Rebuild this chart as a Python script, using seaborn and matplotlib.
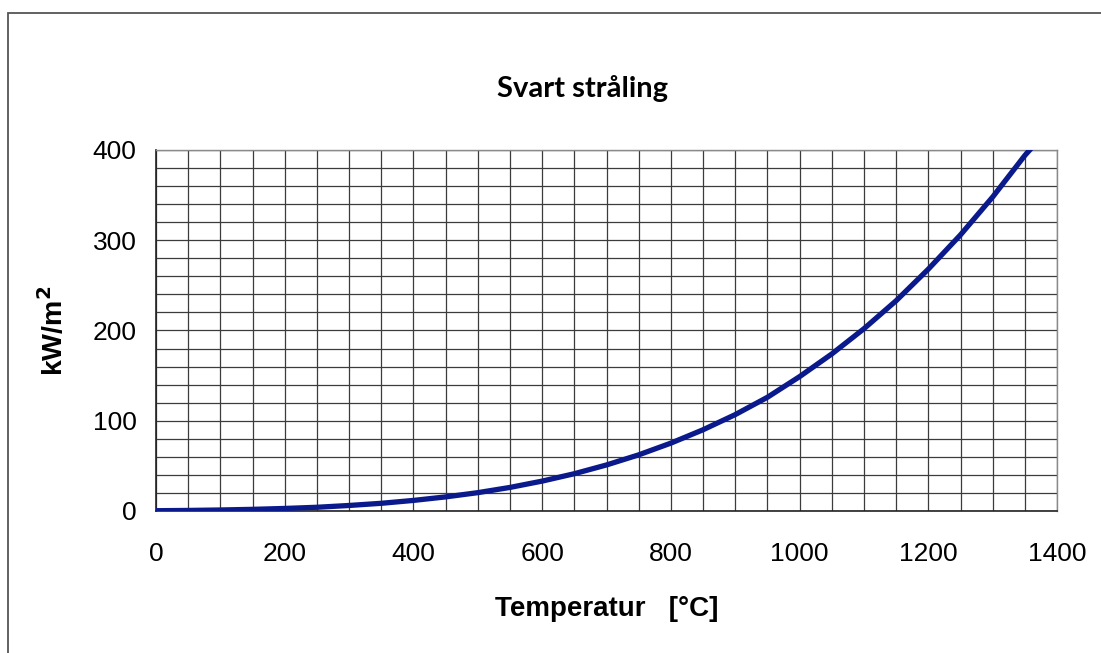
import matplotlib
matplotlib.use("Agg")
import matplotlib.pyplot as plt
from matplotlib.ticker import MultipleLocator
from matplotlib.patches import Rectangle
import seaborn as sns
import pandas as pd

# Black-body emissive power
temperature_c = [0, 50, 100, 150, 200, 250, 300, 350, 400, 450, 500, 550, 600,
                 650, 700, 750, 800, 850, 900, 950, 1000, 1050, 1100, 1150,
                 1200, 1250, 1300, 1350, 1360]
power_kw_m2 = [0.3, 0.6, 1.1, 1.8, 2.8, 4.1, 6.1, 8.5, 11.7, 15.6, 20.3, 26.1,
               33.1, 41.3, 51.0, 62.2, 75.2, 90.0, 106.8, 126.0, 148.9, 174.0,
               202.0, 233.0, 268.0, 306.0, 348.0, 394.0, 402.0]

x_ticks = [0, 200, 400, 600, 800, 1000, 1200, 1400]
y_ticks = [0, 100, 200, 300, 400]

df = pd.DataFrame({"temp": temperature_c, "power": power_kw_m2})

sns.set_style("white")
plt.rcParams["font.family"] = ["Liberation Sans", "DejaVu Sans"]
plt.rcParams["text.color"] = "black"
plt.rcParams["axes.labelcolor"] = "black"
plt.rcParams["xtick.color"] = "black"
plt.rcParams["ytick.color"] = "black"

fig = plt.figure(figsize=(11.01, 6.53), dpi=100)
ax = fig.add_axes([0.1417, 0.2175, 0.8184, 0.5528])

sns.lineplot(data=df, x="temp", y="power", ax=ax, color="#0a1a8c",
             linewidth=3.8, zorder=5, clip_on=True)

ax.set_xlim(0, 1400)
ax.set_ylim(0, 400)
ax.set_xticks(x_ticks)
ax.set_yticks(y_ticks)
ax.xaxis.set_minor_locator(MultipleLocator(50))
ax.yaxis.set_minor_locator(MultipleLocator(20))
ax.grid(True, which="both", color="#3c3c3c", linewidth=0.9)
ax.set_axisbelow(True)

ax.tick_params(axis="both", which="major", direction="out", length=8,
               width=1.0, color="#222222", labelsize=19, pad=14)
ax.tick_params(axis="y", which="major", pad=6)
ax.tick_params(axis="both", which="minor", length=0)

for side in ("top", "right"):
    ax.spines[side].set_color("#8a8a8a")
    ax.spines[side].set_linewidth(1.0)
for side in ("left", "bottom"):
    ax.spines[side].set_color("#222222")
    ax.spines[side].set_linewidth(1.2)

ax.set_xlabel("Temperatur   [°C]", fontsize=20, fontweight="bold", labelpad=22)
ax.set_ylabel("kW/m$^\\mathbf{2}$", fontsize=20.5, fontweight="bold", labelpad=17)

fig.text(0.5295, 0.865, "Svart stråling", ha="center", va="center",
         fontsize=21, fontweight="bold", family=["Lato", "DejaVu Sans"])

# outer chart frame
fig.patches.append(Rectangle((8 / 1101, -0.05), 1.2, 1 - 13 / 653 + 0.05,
                             transform=fig.transFigure, fill=False,
                             edgecolor="#555555", linewidth=1.3))

fig.savefig("out.png", dpi=100)
